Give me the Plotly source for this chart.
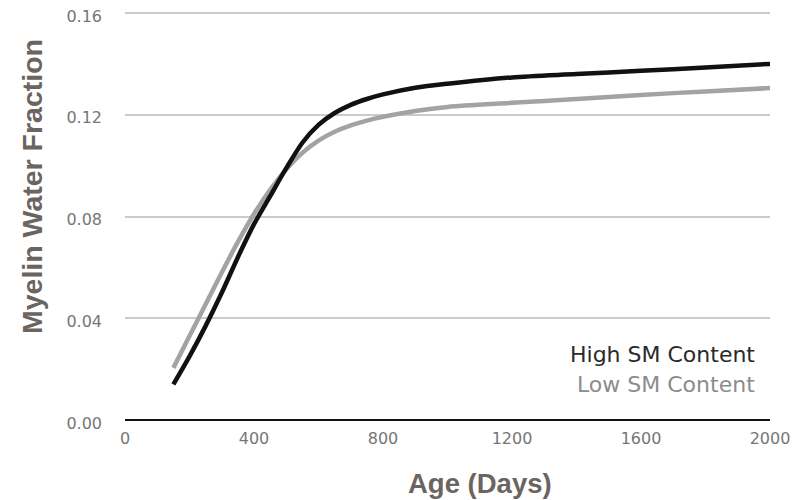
import plotly.graph_objects as go

days = [150, 200, 250, 300, 350, 400, 450, 500, 550, 600, 650, 700, 750, 800,
        900, 1000, 1200, 1400, 1600, 1800, 2000]
high_sm = [0.014, 0.025, 0.037, 0.050, 0.064, 0.077, 0.088, 0.099, 0.109, 0.116,
           0.1207, 0.1239, 0.1262, 0.128, 0.1306, 0.1322, 0.1347, 0.136, 0.1373,
           0.1386, 0.140]
low_sm = [0.0205, 0.033, 0.0455, 0.058, 0.070, 0.081, 0.0905, 0.0985, 0.1050, 0.1098,
          0.1133, 0.1158, 0.1177, 0.1192, 0.1215, 0.1231, 0.1247, 0.1262, 0.1278,
          0.1292, 0.1305]
x_ticks = [0, 400, 800, 1200, 1600, 2000]
y_ticks = [0.00, 0.04, 0.08, 0.12, 0.16]
y_tick_labels = ["0.00", "0.04", "0.08", "0.12", "0.16"]

fig = go.Figure()
fig.add_trace(go.Scatter(x=days, y=low_sm, mode="lines", name="Low SM Content",
                         line=dict(color="#a3a3a3", width=4.5, shape="spline", smoothing=0.8),
                         showlegend=False))
fig.add_trace(go.Scatter(x=days, y=high_sm, mode="lines", name="High SM Content",
                         line=dict(color="#111111", width=4.5, shape="spline", smoothing=0.8),
                         showlegend=False))

tick_font = dict(family="DejaVu Sans, sans-serif", size=16, color="#767676")
title_family = "Liberation Sans, Arial, sans-serif"

fig.update_xaxes(range=[0, 2000], tickvals=x_ticks, showgrid=False, zeroline=False,
                 showline=False, ticks="", tickfont=tick_font, ticklabelstandoff=7,
                 automargin=False, ticklabeloverflow="allow")
fig.update_yaxes(range=[0, 0.1608], tickvals=y_ticks, ticktext=y_tick_labels,
                 showgrid=True, gridcolor="#cbcbcb", gridwidth=1.5,
                 zeroline=True, zerolinecolor="#111111", zerolinewidth=2,
                 showline=False, ticks="", tickfont=tick_font, ticklabelstandoff=22,
                 ticklabelshift=3, automargin=False, ticklabeloverflow="allow")

fig.add_annotation(text="<b>Myelin Water Fraction</b>", textangle=-90,
                   xref="paper", yref="paper", x=-0.1442, y=0.572,
                   xanchor="center", yanchor="middle", showarrow=False,
                   font=dict(family=title_family, size=28.5, color="#6b6461"))
fig.add_annotation(text="<b>Age (Days)</b>", xref="paper", yref="paper",
                   x=0.5504, y=-0.156, xanchor="center", yanchor="middle",
                   showarrow=False,
                   font=dict(family=title_family, size=27.5, color="#6b6461"))
fig.add_annotation(text="High SM Content", xref="paper", yref="paper",
                   x=0.98, y=0.160, xanchor="right", yanchor="middle", showarrow=False,
                   font=dict(family="DejaVu Sans, sans-serif", size=22, color="#2a2a2a"))
fig.add_annotation(text="Low SM Content", xref="paper", yref="paper",
                   x=0.98, y=0.087, xanchor="right", yanchor="middle", showarrow=False,
                   font=dict(family="DejaVu Sans, sans-serif", size=22, color="#8c8c8c"))

fig.update_layout(width=795, height=492, paper_bgcolor="white", plot_bgcolor="white",
                  margin=dict(l=117, r=33, t=3, b=80))
fig.write_html("out.html")
